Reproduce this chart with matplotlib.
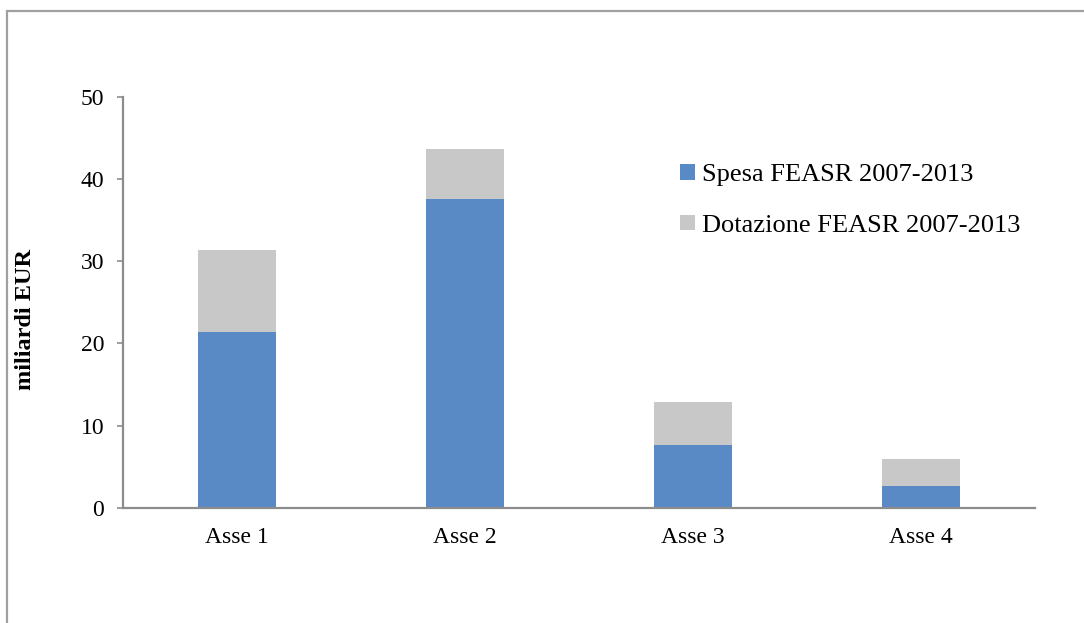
import matplotlib
matplotlib.use("Agg")
import matplotlib.pyplot as plt
from matplotlib.patches import Rectangle
import numpy as np

categories = ["Asse 1", "Asse 2", "Asse 3", "Asse 4"]
spesa = [21.4, 37.6, 7.7, 2.7]
dotazione = [31.4, 43.7, 12.9, 6.0]
yticks = [0, 10, 20, 30, 40, 50]

W, H = 1084, 623
plt.rcParams['font.family'] = ['Liberation Serif', 'DejaVu Serif']
fig = plt.figure(figsize=(W / 100, H / 100), dpi=100)
ax = fig.add_axes([123 / W, 1 - 508 / H, (1035 - 123) / W, (508 - 96.7) / H])

x = np.arange(len(categories))
bw = 0.346
ax.bar(x, dotazione, width=bw, color="#C8C8C8", zorder=2, label="Dotazione FEASR 2007-2013")
ax.bar(x, spesa, width=bw, color="#5A8AC6", zorder=3, label="Spesa FEASR 2007-2013")

ax.set_xlim(-0.5, len(categories) - 0.5)
ax.set_ylim(0, 50)
ax.set_yticks(yticks)
ax.set_xticks(x)
ax.set_xticklabels(categories)

for s in ["top", "right"]:
    ax.spines[s].set_visible(False)
for s in ["left", "bottom"]:
    ax.spines[s].set_color("#8C8C8C")
    ax.spines[s].set_linewidth(1.6)
    ax.spines[s].set_zorder(5)

ax.tick_params(axis="y", direction="out", length=4, width=1.2, color="#8C8C8C",
               labelsize=17, pad=9.5, labelcolor="black")
ax.tick_params(axis="x", length=0, labelsize=17, pad=14, labelcolor="black")

handles, labels = ax.get_legend_handles_labels()
leg = ax.legend(handles[::-1], labels[::-1], loc="upper left",
                bbox_to_anchor=(680 / W, 1 - 164 / H), bbox_transform=fig.transFigure,
                frameon=False, fontsize=19, handlelength=0.55, handleheight=0.55,
                handletextpad=0.27, labelspacing=1.07, borderpad=0, borderaxespad=0)

fig.text(26 / W, 1 - 320 / H, "miliardi EUR", rotation=90, ha="center", va="center",
         fontsize=17.5, fontweight="bold")

frame = Rectangle((7 / W, -0.1), 1.2, (1 - 11 / H) + 0.1, transform=fig.transFigure,
                  fill=False, edgecolor="#A0A0A0", linewidth=1.6, clip_on=False)
fig.add_artist(frame)

fig.savefig("out.png", dpi=100)
